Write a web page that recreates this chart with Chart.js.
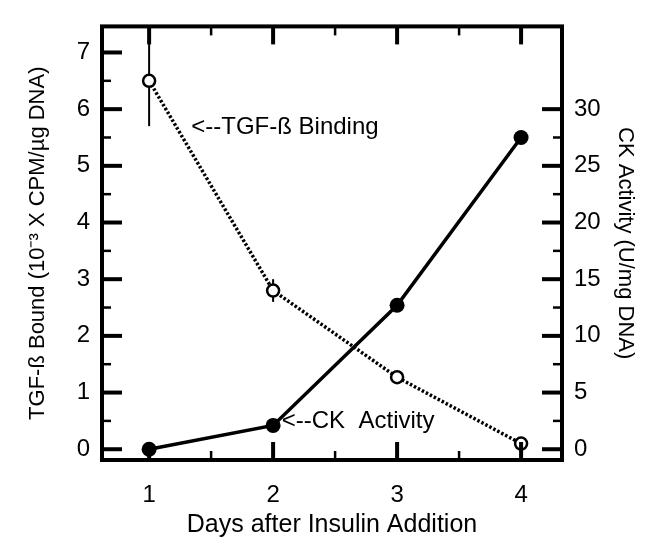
<!DOCTYPE html>
<html>
<head>
<meta charset="utf-8">
<script src="https://cdn.jsdelivr.net/npm/chart.js@4.4.1/dist/chart.umd.min.js"></script>
<style>
  body { margin: 0; background: #fff; }
  canvas { display: block; }
</style>
</head>
<body>
<canvas id="tgf-chart" width="646" height="541"></canvas>
<script>
// data
const days = [1, 2, 3, 4];
const tgfBound = [6.5, 2.8, 1.27, 0.1];      // 10^-3 x CPM/ug DNA (left axis)
const tgfError = [0.8, 0.2, 0, 0];
const ckActivity = [0, 2.1, 12.7, 27.5];     // U/mg DNA (right axis)

const dayTicks = [1, 2, 3, 4];
const leftTicks = [0, 1, 2, 3, 4, 5, 6, 7];
const rightTicks = [0, 5, 10, 15, 20, 25, 30];

const FONT = "'Liberation Sans Narrow', 'Arial Narrow', 'Liberation Sans', sans-serif";
const INK = '#000';

// axis ranges (right axis is 5x the left one)
const leftMin = -0.19, leftMax = 7.46;

const fixedTicks = (list) => (scale) => {
  scale.ticks = list.map(v => ({value: v}));
};

// frame, inward ticks, error bars and arrow labels
const decorations = {
  id: 'decorations',
  beforeDatasetsDraw(chart) {
    const {ctx, scales: {x, y}} = chart;
    ctx.save();
    ctx.strokeStyle = INK;
    ctx.lineWidth = 2;
    days.forEach((d, i) => {
      if (!tgfError[i]) return;
      const px = x.getPixelForValue(d);
      ctx.beginPath();
      ctx.moveTo(px, y.getPixelForValue(tgfBound[i] - tgfError[i]));
      ctx.lineTo(px, y.getPixelForValue(tgfBound[i] + tgfError[i]));
      ctx.stroke();
    });
    ctx.restore();
  },
  afterDatasetsDraw(chart) {
    const {ctx, chartArea: a, scales: {x, y, y2}} = chart;
    ctx.save();
    ctx.strokeStyle = INK;
    ctx.lineCap = 'butt';

    const tick = (x0, y0, x1, y1, w) => {
      ctx.lineWidth = w;
      ctx.beginPath();
      ctx.moveTo(x0, y0);
      ctx.lineTo(x1, y1);
      ctx.stroke();
    };

    // left axis
    leftTicks.forEach(v => {
      const py = y.getPixelForValue(v);
      tick(a.left, py, a.left + 20, py, 4);
      if (v < leftTicks[leftTicks.length - 1]) {
        const pm = y.getPixelForValue(v + 0.5);
        tick(a.left, pm, a.left + 9, pm, 2.5);
      }
    });
    // right axis
    rightTicks.forEach(v => {
      const py = y2.getPixelForValue(v);
      tick(a.right, py, a.right - 20, py, 4);
      if (v < rightTicks[rightTicks.length - 1]) {
        const pm = y2.getPixelForValue(v + 2.5);
        tick(a.right, pm, a.right - 9, pm, 2.5);
      }
    });
    // bottom and top axes
    dayTicks.forEach(v => {
      const px = x.getPixelForValue(v);
      tick(px, a.bottom, px, a.bottom - 18, 4);
      tick(px, a.top, px, a.top + 18, 4);
      if (v < dayTicks[dayTicks.length - 1]) {
        const pm = x.getPixelForValue(v + 0.5);
        tick(pm, a.bottom, pm, a.bottom - 9, 2.5);
        tick(pm, a.top, pm, a.top + 9, 2.5);
      }
    });

    // frame
    ctx.lineWidth = 4;
    ctx.strokeRect(a.left, a.top, a.right - a.left, a.bottom - a.top);

    // arrow labels
    ctx.fillStyle = INK;
    ctx.font = '24px ' + FONT;
    ctx.textBaseline = 'middle';
    ctx.textAlign = 'left';
    ctx.fillText('<--TGF-\u00df Binding', x.getPixelForValue(1.34), y.getPixelForValue(5.68));
    ctx.fillText('<--CK  Activity', x.getPixelForValue(2.07), y2.getPixelForValue(ckActivity[1]) - 4);
    ctx.restore();
  }
};

const tickFont = {family: FONT, size: 24};

const config = {
  type: 'line',
  data: {
    datasets: [
      {
        label: 'TGF-\u00df Binding',
        data: days.map((d, i) => ({x: d, y: tgfBound[i]})),
        yAxisID: 'y',
        borderColor: INK,
        borderWidth: 3.5,
        borderDash: [2.5, 2],
        pointRadius: 6,
        pointBorderWidth: 2.5,
        pointBackgroundColor: '#fff',
        pointBorderColor: INK,
        tension: 0,
      },
      {
        label: 'CK Activity',
        data: days.map((d, i) => ({x: d, y: ckActivity[i]})),
        yAxisID: 'y2',
        borderColor: INK,
        borderWidth: 3.5,
        pointRadius: 7.5,
        pointBorderWidth: 0,
        pointBackgroundColor: INK,
        tension: 0,
      },
    ],
  },
  options: {
    responsive: false,
    animation: false,
    layout: {padding: {top: 14}},
    plugins: {legend: {display: false}, tooltip: {enabled: false}},
    scales: {
      x: {
        type: 'linear',
        min: 0.62,
        max: 4.33,
        afterBuildTicks: fixedTicks(dayTicks),
        afterFit: (s) => { s.height = 81; },
        grid: {display: false, drawTicks: false},
        border: {display: false},
        ticks: {color: INK, font: tickFont, padding: 21},
        title: {display: true, text: 'Days after Insulin Addition', color: INK,
                font: {family: FONT, size: 25}, padding: {top: 0, bottom: 1}},
      },
      y: {
        position: 'left',
        min: leftMin,
        max: leftMax,
        afterBuildTicks: fixedTicks(leftTicks),
        afterFit: (s) => { s.width = 102; },
        grid: {display: false, drawTicks: false},
        border: {display: false},
        ticks: {color: INK, font: tickFont, padding: 12},
        title: {display: true, text: 'TGF-\u00df Bound (10\u207b\u00b3 X CPM/\u00b5g DNA)', color: INK,
                font: {family: FONT, size: 22}, padding: {top: 25, bottom: 0}},
      },
      y2: {
        position: 'right',
        min: leftMin * 5,
        max: leftMax * 5,
        afterBuildTicks: fixedTicks(rightTicks),
        afterFit: (s) => { s.width = 84; },
        grid: {display: false, drawTicks: false},
        border: {display: false},
        ticks: {color: INK, font: tickFont, padding: 12},
        title: {display: true, text: 'CK Activity (U/mg DNA)', color: INK,
                font: {family: FONT, size: 22}, padding: {top: 8, bottom: 0}},
      },
    },
  },
  plugins: [decorations],
};

new Chart(document.querySelector('#tgf-chart'), config);
</script>
</body>
</html>
